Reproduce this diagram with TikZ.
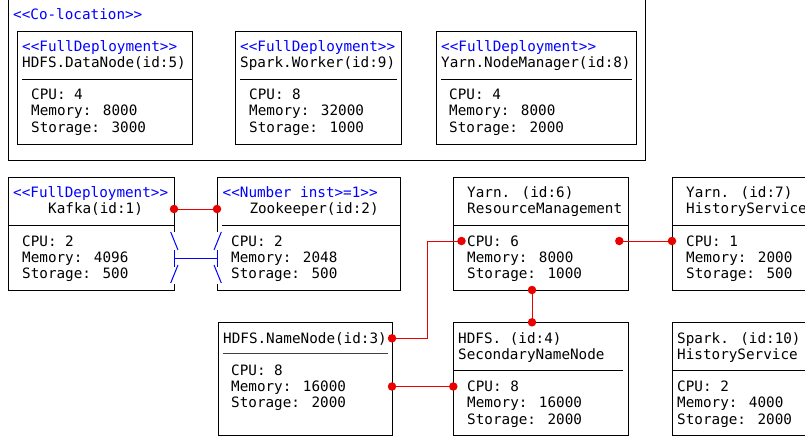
\documentclass[tikz,border=0pt]{standalone}
\usepackage{fontspec}
\newfontfamily\mono{DejaVu Sans Mono}
\definecolor{stereo}{RGB}{0,0,255}
\definecolor{linkred}{RGB}{235,0,0}
\begin{document}
\begin{tikzpicture}[x=1pt,y=-1pt,
  box/.style={draw=black, line width=1pt, inner sep=0pt, anchor=north west},
  sepline/.style={draw=black, line width=1pt},
  txt/.style={anchor=base west, inner sep=0pt, font=\mono\fontsize{14.3}{16}\selectfont, text=black},
  st/.style={txt, text=stereo},
  link/.style={draw=linkred, line width=0.9pt},
  dot/.style={circle, fill=linkred, inner sep=0pt, minimum size=8.5pt},
  gapmark/.style={draw=stereo, line width=1pt}]
\path[use as bounding box] (0,0) rectangle (805,440);
\clip (0,0) rectangle (805,440);

% ---------- Co-location group ----------
\node[box, minimum width=637pt, minimum height=170pt] (coloc) at (8,-10) {};
\node[st] (colocT) at (13,19) {<{}<Co-location>{}>};

% DataNode
\node[box, minimum width=175pt, minimum height=113pt] (dn) at (17,31) {};
\node[st]  (dnS) at (22,51.5) {<{}<FullDeployment>{}>};
\node[txt] (dnN) at (22,67.5) {HDFS.DataNode(id:5)};
\draw[sepline] (22,79) -- (192,79);
\node[txt] (dn1) at (31,99.7) {CPU: 4};
\node[txt] (dn2) at (31,115.9) {Memory: 8000};
\node[txt] (dn3) at (31,132.1) {Storage: 3000};

% Spark.Worker
\node[box, minimum width=166pt, minimum height=113pt] (sw) at (235,31) {};
\node[st]  (swS) at (240,51.5) {<{}<FullDeployment>{}>};
\node[txt] (swN) at (240,67.5) {Spark.Worker(id:9)};
\draw[sepline] (240,79) -- (397,79);
\node[txt] (sw1) at (249,99.7) {CPU: 8};
\node[txt] (sw2) at (249,115.9) {Memory: 32000};
\node[txt] (sw3) at (249,132.1) {Storage: 1000};

% Yarn.NodeManager
\node[box, minimum width=200pt, minimum height=113pt] (nm) at (436,31) {};
\node[st]  (nmS) at (441,51.5) {<{}<FullDeployment>{}>};
\node[txt] (nmN) at (441,67.5) {Yarn.NodeManager(id:8)};
\draw[sepline] (441,79) -- (632,79);
\node[txt] (nm1) at (449,99.7) {CPU: 4};
\node[txt] (nm2) at (449,115.9) {Memory: 8000};
\node[txt] (nm3) at (449,132.1) {Storage: 2000};

% ---------- Kafka ----------
\draw[black, line width=1pt] (174,232) -- (174,177) -- (8,177) -- (8,290) -- (174,290) -- (174,284);
\node[st]  (kfS) at (13,197) {<{}<FullDeployment>{}>};
\node[txt] (kfN) at (48,213.5) {Kafka(id:1)};
\draw[sepline] (8,225) -- (174,225);
\node[txt] (kf1) at (22,246) {CPU: 2};
\node[txt] (kf2) at (22,262.2) {Memory: 4096};
\node[txt] (kf3) at (22,278.4) {Storage: 500};

% ---------- Zookeeper ----------
\draw[black, line width=1pt] (217,232) -- (217,177) -- (400,177) -- (400,290) -- (217,290) -- (217,284);
\node[st]  (zkS) at (222.5,197) {<{}<Number inst>{}=1>{}>};
\node[txt] (zkN) at (249.3,213.5) {Zookeeper(id:2)};
\draw[sepline] (222,225) -- (400,225);
\node[txt] (zk1) at (231,246) {CPU: 2};
\node[txt] (zk2) at (231,262.2) {Memory: 2048};
\node[txt] (zk3) at (231,278.4) {Storage: 500};

% gap marks between Kafka and Zookeeper
\coordinate (gk) at (174,258);
\coordinate (gz) at (217,258);
\draw[gapmark] (170.7,232) -- (178,250);
\draw[gapmark] (174,250) -- (174,267);
\draw[gapmark] (178,265) -- (170.7,283);
\draw[gapmark] (221.3,232) -- (214,250);
\draw[gapmark] (217,250) -- (217,267);
\draw[gapmark] (214,265) -- (221.3,283);
\draw[gapmark] (gk) -- (gz);

% ---------- Yarn ResourceManagement ----------
\node[box, minimum width=175pt, minimum height=113pt] (rm) at (453,177) {};
\node[txt] (rmA) at (467,197) {Yarn. (id:6)};
\node[txt] (rmB) at (467,213.5) {ResourceManagement};
\draw[sepline] (453,225) -- (628,225);
\node[txt] (rm1) at (467,246) {CPU: 6};
\node[txt] (rm2) at (467,262.2) {Memory: 8000};
\node[txt] (rm3) at (467,278.4) {Storage: 1000};

% ---------- Yarn HistoryService ----------
\node[box, minimum width=200pt, minimum height=113pt] (yhs) at (672,177) {};
\node[txt] (yhsA) at (686,197) {Yarn. (id:7)};
\node[txt] (yhsB) at (686,213.5) {HistoryService};
\draw[sepline] (672,225) -- (872,225);
\node[txt] (yhs1) at (686,246) {CPU: 1};
\node[txt] (yhs2) at (686,262.2) {Memory: 2000};
\node[txt] (yhs3) at (686,278.4) {Storage: 500};

% ---------- HDFS.NameNode ----------
\node[box, minimum width=174pt, minimum height=113pt] (nn) at (218,322) {};
\node[txt] (nnN) at (223,343) {HDFS.NameNode(id:3)};
\draw[draw=black!75, line width=1.6pt] (223,353.3) -- (388,353.3);
\node[txt] (nn1) at (231,375) {CPU: 8};
\node[txt] (nn2) at (231,391.3) {Memory: 16000};
\node[txt] (nn3) at (231,407.5) {Storage: 2000};

% ---------- HDFS SecondaryNameNode ----------
\node[box, minimum width=175pt, minimum height=113pt] (sn) at (453,322) {};
\node[txt] (snA) at (458,343) {HDFS. (id:4)};
\node[txt] (snB) at (458,359.2) {SecondaryNameNode};
\draw[sepline] (453,370.7) -- (623,370.7);
\node[txt] (sn1) at (467,391.7) {CPU: 8};
\node[txt] (sn2) at (467,407.9) {Memory: 16000};
\node[txt] (sn3) at (467,424.1) {Storage: 2000};

% ---------- Spark HistoryService ----------
\node[box, minimum width=200pt, minimum height=113pt] (shs) at (672,322) {};
\node[txt] (shsA) at (677,343) {Spark. (id:10)};
\node[txt] (shsB) at (677,359.2) {HistoryService};
\draw[sepline] (672,370.5) -- (872,370.5);
\node[txt] (shs1) at (677,391.7) {CPU: 2};
\node[txt] (shs2) at (677,407.9) {Memory: 4000};
\node[txt] (shs3) at (677,424.1) {Storage: 2000};

% ---------- red links ----------
\coordinate (kz1) at (174,209);
\coordinate (kz2) at (217,209);
\coordinate (nnA) at (392,338.3);
\coordinate (rmL) at (461.5,241);
\coordinate (rmR) at (619.3,241);
\coordinate (yhsL) at (672,241);
\coordinate (rmD) at (532,290);
\coordinate (snU) at (532,322.3);
\coordinate (nnB) at (392,386.5);
\coordinate (snL) at (453.3,386.5);

\draw[link] (kz1) -- (kz2);
\draw[link] (nnA) -- ++(35,0) |- (rmL);
\draw[link] (rmR) -- (yhsL);
\draw[link] (rmD) -- (snU);
\draw[link] (nnB) -- (snL);
\foreach \c in {kz1,kz2,nnA,rmL,rmR,yhsL,rmD,snU,nnB,snL}
  \node[dot] at (\c) {};
\end{tikzpicture}
\end{document}
